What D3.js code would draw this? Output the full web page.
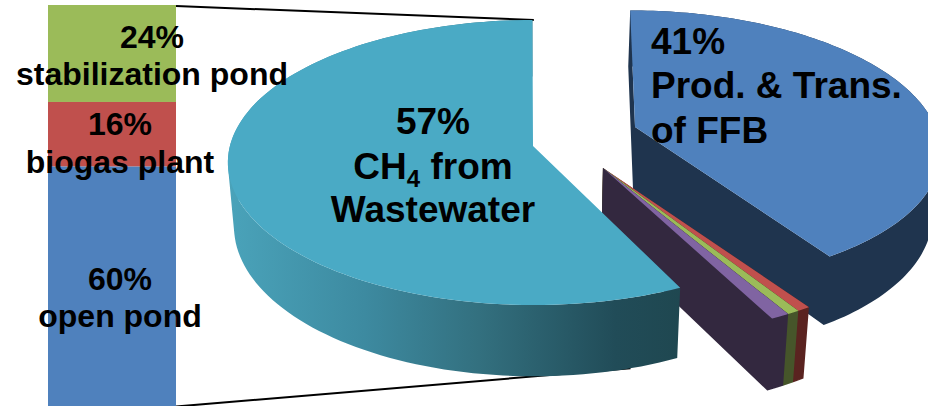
<!DOCTYPE html>
<html>
<head>
<meta charset="utf-8">
<script src="https://cdn.jsdelivr.net/npm/d3@7/dist/d3.min.js"></script>
<style>
  html, body { margin: 0; padding: 0; background: #fff; overflow: hidden; }
  svg { display: block; }
  text { font-family: "Liberation Sans", Arial, sans-serif; font-weight: bold; fill: #000; }
</style>
</head>
<body>
<svg id="chart" width="928" height="406"></svg>
<script>
// Greenhouse gas sources: pie shares, clockwise from the top
const pieCategories = ["Prod. & Trans. of FFB", "Other A", "Other B", "Other C", "CH4 from Wastewater"];
const pieShares = [41, 0.6, 0.55, 0.85, 57];
const pieTopColors = ["#4f81bd", "#c0504d", "#9bbb59", "#8064a2", "#4aaac5"];
const pieWallColors = ["#1f344e", "#5a2320", "#46552a", "#33283f", "url(#wallShade)"];

// Breakdown of the wastewater share, stacked from the top
const barCategories = ["stabilization pond", "biogas plant", "open pond"];
const barShares = [24, 16, 60];
const barColors = ["#9bbb59", "#c0504d", "#4f81bd"];

const svg = d3.select("#chart");

// Perspective model of the pie plane
const cx = 533, cy = 146, radiusX = 304, radiusY = 140.6, persp = 0.1158;
const thickness = 63, wallInset = 0.98;

// Exploded slices: plane position of the tip, of the rim centre, and rim radius
const sliceTips = [[0.341, 0.137], [0.226, -0.154], [0.226, -0.154], [0.226, -0.154], [0, 0]];
const sliceCentres = [[0.365, 0.105], [0.245, -0.145], [0.245, -0.145], [0.245, -0.145], [0.003, 0]];
const sliceRadii = [0.98, 1.03, 1.03, 1.03, 1];

const projectTop = ([x, y]) => {
  const w = 1 + persp * y;
  return [cx + radiusX * x / w, cy - radiusY * y / w];
};
const projectBottom = ([x, y]) => {
  const w = 1 + persp * y;
  const [sx, sy] = projectTop([x, y]);
  return [cx + (sx - cx) * wallInset, sy + thickness / w];
};

const startAngle = -0.3 * Math.PI / 180;
const arcs = d3.pie().sort(null).value(d => d)
  .startAngle(startAngle)
  .endAngle(startAngle + 2 * Math.PI)(pieShares);

const rimAt = (i, a) => [
  sliceCentres[i][0] + sliceRadii[i] * Math.sin(a),
  sliceCentres[i][1] + sliceRadii[i] * Math.cos(a)
];
const rimPoints = (i, a0, a1) => d3.range(0, 121).map(k => rimAt(i, a0 + (a1 - a0) * k / 120));

const closedPath = d3.line().curve(d3.curveLinearClosed);

const defs = svg.append("defs");
const wallShade = defs.append("linearGradient")
  .attr("id", "wallShade").attr("gradientUnits", "userSpaceOnUse")
  .attr("x1", 228).attr("x2", 684).attr("y1", 0).attr("y2", 0);
[[0, "#4aa3ba"], [0.3, "#3d8aa0"], [0.55, "#33707f"], [0.85, "#214c58"], [1, "#1f4750"]]
  .forEach(([o, c]) => wallShade.append("stop").attr("offset", o).attr("stop-color", c));

// Connector lines from the stacked bar to the wastewater slice, behind the pie
const barX = [48, 176];
const barY = d3.scaleLinear().domain([0, 100]).range([5, 409]);
const connectors = svg.append("g").attr("stroke", "#000").attr("stroke-width", 2);
const topAnchor = projectTop(rimAt(4, 0));
const bottomAnchor = projectBottom(rimAt(4, Math.PI * 0.907));
connectors.append("line")
  .attr("x1", barX[1]).attr("y1", barY(0) + 1)
  .attr("x2", topAnchor[0]).attr("y2", topAnchor[1]);
connectors.append("line")
  .attr("x1", barX[1]).attr("y1", 406.5)
  .attr("x2", bottomAnchor[0]).attr("y2", bottomAnchor[1]);

// One wall strip between two neighbouring plane points, wound the same way
// every time so that all strips merge when filled as a single path
const quad = (p, q) => {
  const pts = [projectTop(p), projectTop(q), projectBottom(q), projectBottom(p)];
  return closedPath(d3.polygonArea(pts) < 0 ? pts.reverse() : pts);
};

// Slices drawn back to front: walls first, then the top face
const pieLayer = svg.append("g");
arcs.forEach((d, i) => {
  const rim = rimPoints(i, d.startAngle, d.endAngle);
  const tip = sliceTips[i];
  const strips = d3.pairs(rim).map(([p, q]) => quad(p, q));
  if (i < 4) strips.push(quad(tip, rim[0]), quad(tip, rim[rim.length - 1]));
  pieLayer.append("path").attr("d", strips.join("")).attr("fill", pieWallColors[i]);
  pieLayer.append("path")
    .attr("d", closedPath([tip, ...rim].map(projectTop)))
    .attr("fill", pieTopColors[i]);
});

// Stacked breakdown bar
let running = 0;
const barStacks = barShares.map(v => {
  const seg = { y0: running, y1: running + v };
  running += v;
  return seg;
});
svg.append("g").selectAll("rect").data(barStacks).join("rect")
  .attr("x", barX[0]).attr("width", barX[1] - barX[0])
  .attr("y", d => barY(d.y0))
  .attr("height", d => barY(d.y1) - barY(d.y0))
  .attr("fill", (d, i) => barColors[i]);

// Labels
const barLabel = (x, y, txt) => svg.append("text")
  .attr("x", x).attr("y", y).attr("text-anchor", "middle").attr("font-size", 32).text(txt);
barLabel(152, 48, "24%");
barLabel(152, 85, barCategories[0]);
barLabel(120, 135, "16%");
barLabel(120, 173, barCategories[1]);
barLabel(120, 290, "60%");
barLabel(120, 327, barCategories[2]);

const blueLabel = (y, txt) => svg.append("text")
  .attr("x", 651).attr("y", y).attr("font-size", 37).text(txt);
blueLabel(54, "41%");
blueLabel(98, "Prod. & Trans.");
blueLabel(143, "of FFB");

const wasteLabel = (y) => svg.append("text")
  .attr("x", 433).attr("y", y).attr("text-anchor", "middle").attr("font-size", 37);
wasteLabel(134).text("57%");
const ch4 = wasteLabel(179);
ch4.append("tspan").text("CH");
ch4.append("tspan").attr("font-size", 24).attr("dy", 8).text("4");
ch4.append("tspan").attr("dy", -8).text(" from");
wasteLabel(222).text("Wastewater");
</script>
</body>
</html>
